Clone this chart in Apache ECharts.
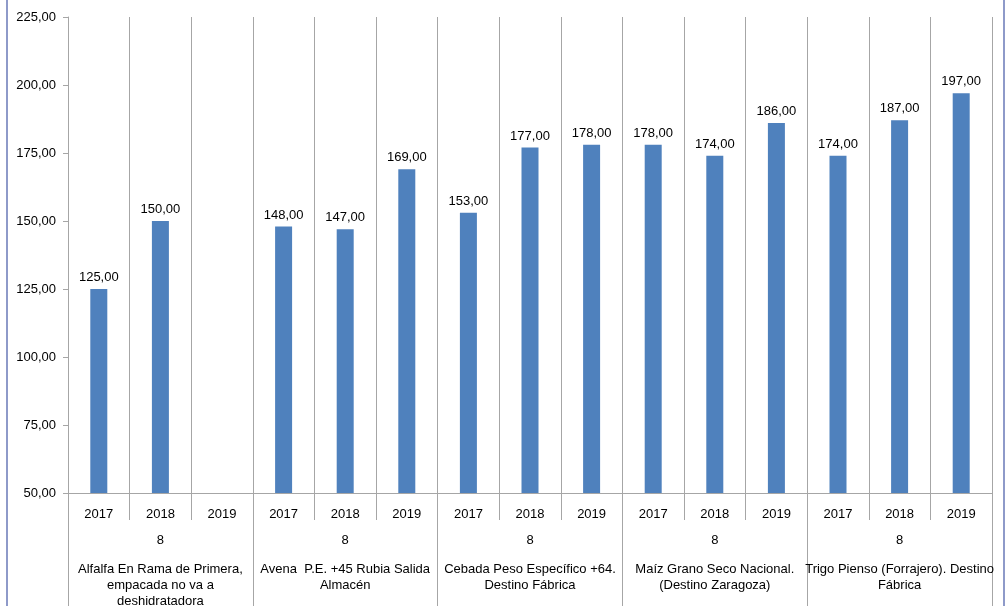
<!DOCTYPE html>
<html><head><meta charset="utf-8">
<script src="https://cdn.jsdelivr.net/npm/echarts@6/dist/echarts.min.js"></script>
<style>html,body{margin:0;padding:0;background:#fff}#c{width:1008px;height:606px}</style>
</head><body><div id="c"></div>
<script>
var years = ['2017','2018','2019','2017','2018','2019','2017','2018','2019','2017','2018','2019','2017','2018','2019'];
var groupCodes = ['8','8','8','8','8'];
var groupNames = [
  'Alfalfa En Rama de Primera,\nempacada no va a\ndeshidratadora',
  'Avena  P.E. +45 Rubia Salida\nAlmacén',
  'Cebada Peso Específico +64.\nDestino Fábrica',
  'Maíz Grano Seco Nacional.\n(Destino Zaragoza)',
  'Trigo Pienso (Forrajero). Destino\nFábrica'
];
var values = [125, 150, null, 148, 147, 169, 153, 177, 178, 178, 174, 186, 174, 187, 197];
var yTicks = {min: 50, max: 225, interval: 25};

var fmt = function(v){ return Number(v).toFixed(2).replace('.', ','); };
var font = '"Liberation Sans", Arial, sans-serif';
var fs = 13;
var gray = '#A6A6A6';
var chart = echarts.init(document.getElementById('c'));
chart.setOption({
  animation: false,
  textStyle: {fontFamily: font},
  grid: {left: 68, right: 16, top: 17, bottom: 113, containLabel: false, outerBoundsMode: 'none'},
  graphic: [
    {type: 'line', shape: {x1: 7, y1: 0, x2: 7, y2: 606}, style: {stroke: '#8E9AC9', lineWidth: 2}},
    {type: 'line', shape: {x1: 1004, y1: 0, x2: 1004, y2: 606}, style: {stroke: '#8E9AC9', lineWidth: 2}}
  ],
  xAxis: [
    {type: 'category', data: years, gridIndex: 0, position: 'bottom',
     axisLine: {show: true, lineStyle: {color: gray}},
     axisTick: {show: true, interval: 0, length: 27, lineStyle: {color: gray}},
     axisLabel: {interval: 0, margin: 15, color: '#000', fontSize: fs, fontFamily: font},
     splitLine: {show: true, interval: 0, lineStyle: {color: gray}}},
    {type: 'category', data: groupCodes, gridIndex: 0, position: 'bottom',
     axisLine: {show: false},
     axisTick: {show: true, interval: 0, length: 113, lineStyle: {color: gray}},
     axisLabel: {interval: 0, margin: 41, color: '#000', fontSize: fs, fontFamily: font},
     splitLine: {show: false}},
    {type: 'category', data: groupNames, gridIndex: 0, position: 'bottom',
     axisLine: {show: false}, axisTick: {show: false},
     axisLabel: {interval: 0, margin: 68, color: '#000', fontSize: fs, lineHeight: 16, fontFamily: font, align: 'center'},
     splitLine: {show: false}}
  ],
  yAxis: {type: 'value', min: yTicks.min, max: yTicks.max, interval: yTicks.interval,
    axisLine: {show: true, lineStyle: {color: gray}},
    axisTick: {show: true, length: 5, lineStyle: {color: gray}},
    axisLabel: {margin: 12, color: '#000', fontSize: fs, fontFamily: font, formatter: fmt},
    splitLine: {show: false}},
  series: [{
    type: 'bar', xAxisIndex: 0, data: values, barWidth: 17,
    itemStyle: {color: '#4F81BD'},
    label: {show: true, position: 'top', distance: 5, color: '#000', fontSize: fs, fontFamily: font,
      formatter: function(p){ return fmt(p.value); }}
  }]
});
</script></body></html>
